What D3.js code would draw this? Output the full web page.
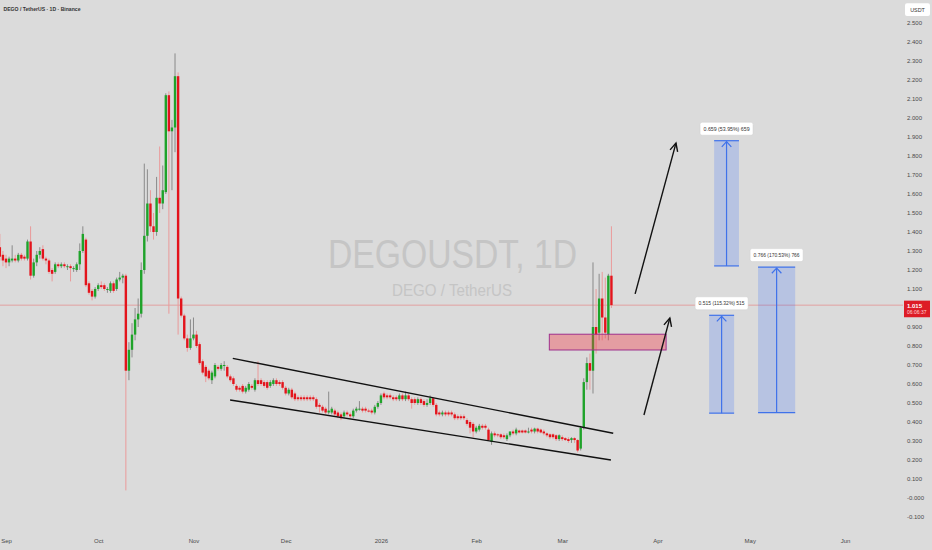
<!DOCTYPE html>
<html>
<head>
<meta charset="utf-8">
<script src="https://cdn.jsdelivr.net/npm/d3@7"></script>
<style>
  html, body { margin: 0; padding: 0; background: #dbdbdb; }
  svg { display: block; font-family: "Liberation Sans", Arial, sans-serif; }
</style>
</head>
<body>
<svg id="chart" width="932" height="550"></svg>
<script>
// ---- Daily candles, DEGO / USDT (Binance), first candle on 2025-08-30 ----
const firstCandle = "2025-08-30";
// [open, high, low, close]
const ohlc = [
  [1.32,1.39,1.25,1.27],[1.28,1.30,1.22,1.25],[1.26,1.28,1.21,1.24],[1.24,1.27,1.22,1.26],
  [1.25,1.33,1.24,1.26],[1.26,1.28,1.24,1.25],[1.25,1.29,1.24,1.28],[1.28,1.29,1.25,1.26],
  [1.27,1.28,1.25,1.26],[1.26,1.36,1.25,1.35],[1.35,1.43,1.15,1.17],[1.17,1.26,1.16,1.24],
  [1.24,1.30,1.22,1.28],[1.28,1.32,1.26,1.30],[1.31,1.33,1.25,1.26],[1.26,1.27,1.23,1.25],
  [1.25,1.26,1.18,1.19],[1.20,1.21,1.14,1.18],[1.19,1.24,1.18,1.23],[1.23,1.24,1.21,1.22],
  [1.22,1.24,1.21,1.23],[1.23,1.24,1.21,1.22],[1.22,1.23,1.20,1.22],[1.22,1.23,1.14,1.21],
  [1.21,1.22,1.19,1.21],[1.20,1.24,1.19,1.23],[1.23,1.34,1.20,1.30],[1.30,1.43,1.29,1.39],
  [1.36,1.37,1.11,1.12],[1.13,1.14,1.07,1.08],[1.09,1.10,1.04,1.06],[1.06,1.11,1.05,1.10],
  [1.10,1.13,1.09,1.12],[1.12,1.14,1.10,1.11],[1.12,1.13,1.09,1.10],[1.10,1.11,1.08,1.10],
  [1.09,1.14,1.08,1.13],[1.13,1.14,1.08,1.09],[1.10,1.16,1.09,1.15],[1.15,1.19,1.14,1.16],
  [1.16,1.18,1.13,1.17],[1.17,1.18,0.04,0.67],[0.67,0.82,0.62,0.78],[0.78,0.92,0.74,0.86],
  [0.86,1.00,0.83,0.94],[0.94,1.05,0.90,0.97],[0.97,1.24,0.95,1.20],[1.20,1.76,1.18,1.38],
  [1.38,1.73,1.35,1.55],[1.55,1.62,1.40,1.43],[1.43,1.50,1.36,1.40],[1.40,1.69,1.38,1.58],
  [1.58,1.85,1.50,1.55],[1.55,1.75,1.52,1.62],[1.61,2.13,1.60,2.12],[2.12,2.14,0.97,1.93],
  [1.93,1.99,1.62,1.95],[1.95,2.34,1.82,2.22],[2.22,2.24,0.86,1.05],[1.05,1.06,0.95,0.96],
  [0.96,0.97,0.83,0.84],[0.84,0.86,0.77,0.79],[0.79,0.94,0.78,0.84],[0.84,0.95,0.83,0.86],
  [0.86,0.88,0.79,0.80],[0.81,0.82,0.70,0.71],[0.72,0.73,0.65,0.66],[0.69,0.70,0.61,0.64],
  [0.67,0.68,0.62,0.63],[0.62,0.67,0.60,0.66],[0.64,0.71,0.63,0.70],[0.69,0.70,0.67,0.68],
  [0.68,0.71,0.67,0.70],[0.70,0.72,0.67,0.70],[0.69,0.70,0.63,0.64],[0.64,0.65,0.61,0.62],
  [0.63,0.64,0.59,0.60],[0.59,0.60,0.56,0.57],[0.58,0.59,0.56,0.57],[0.59,0.60,0.55,0.56],
  [0.56,0.59,0.55,0.58],[0.57,0.61,0.56,0.60],[0.59,0.60,0.57,0.58],[0.57,0.63,0.56,0.62],
  [0.62,0.72,0.59,0.60],[0.62,0.63,0.59,0.60],[0.61,0.62,0.58,0.59],[0.61,0.62,0.57,0.58],
  [0.59,0.62,0.58,0.61],[0.60,0.63,0.59,0.62],[0.62,0.63,0.59,0.60],[0.61,0.62,0.59,0.60],
  [0.61,0.62,0.57,0.58],[0.58,0.59,0.54,0.55],[0.55,0.58,0.54,0.57],[0.57,0.58,0.52,0.53],
  [0.55,0.56,0.51,0.52],[0.53,0.54,0.51,0.52],[0.53,0.54,0.51,0.52],[0.53,0.54,0.51,0.52],
  [0.53,0.54,0.51,0.52],[0.53,0.54,0.51,0.52],[0.53,0.54,0.51,0.52],[0.52,0.53,0.47,0.48],
  [0.49,0.50,0.45,0.48],[0.48,0.49,0.45,0.46],[0.47,0.48,0.44,0.45],[0.45,0.56,0.44,0.46],
  [0.45,0.48,0.44,0.47],[0.46,0.47,0.43,0.44],[0.45,0.46,0.42,0.43],[0.44,0.45,0.41,0.42],
  [0.43,0.46,0.42,0.45],[0.45,0.46,0.43,0.44],[0.44,0.45,0.42,0.43],[0.43,0.47,0.42,0.46],
  [0.46,0.48,0.45,0.47],[0.47,0.51,0.46,0.47],[0.47,0.48,0.45,0.46],[0.47,0.48,0.45,0.46],
  [0.46,0.47,0.45,0.455],[0.46,0.47,0.44,0.45],[0.45,0.49,0.44,0.48],[0.48,0.51,0.47,0.50],
  [0.50,0.55,0.49,0.54],[0.55,0.56,0.52,0.53],[0.54,0.55,0.52,0.53],[0.54,0.55,0.52,0.53],
  [0.53,0.54,0.51,0.52],[0.53,0.54,0.51,0.52],[0.52,0.55,0.51,0.54],[0.54,0.55,0.51,0.52],
  [0.52,0.56,0.51,0.54],[0.54,0.55,0.51,0.52],[0.52,0.53,0.47,0.50],[0.52,0.53,0.49,0.50],
  [0.50,0.53,0.49,0.52],[0.52,0.53,0.49,0.50],[0.51,0.52,0.48,0.49],[0.49,0.52,0.48,0.50],
  [0.50,0.54,0.49,0.525],[0.525,0.53,0.48,0.49],[0.49,0.50,0.43,0.44],[0.45,0.46,0.43,0.44],
  [0.44,0.46,0.43,0.45],[0.45,0.46,0.43,0.44],[0.45,0.46,0.43,0.44],[0.45,0.46,0.43,0.44],
  [0.44,0.45,0.41,0.42],[0.43,0.44,0.41,0.42],[0.43,0.44,0.41,0.42],[0.43,0.44,0.41,0.42],
  [0.41,0.42,0.38,0.39],[0.40,0.41,0.34,0.37],[0.39,0.40,0.32,0.35],[0.35,0.38,0.34,0.37],
  [0.36,0.39,0.35,0.38],[0.38,0.39,0.36,0.37],[0.38,0.39,0.36,0.37],[0.36,0.37,0.30,0.305],
  [0.295,0.35,0.28,0.34],[0.34,0.35,0.32,0.33],[0.335,0.34,0.32,0.33],[0.335,0.34,0.31,0.32],
  [0.33,0.34,0.31,0.32],[0.31,0.34,0.30,0.33],[0.33,0.35,0.32,0.35],[0.35,0.36,0.33,0.34],
  [0.34,0.37,0.33,0.36],[0.355,0.36,0.34,0.345],[0.355,0.36,0.34,0.345],[0.355,0.36,0.34,0.345],
  [0.35,0.37,0.34,0.35],[0.36,0.37,0.34,0.35],[0.35,0.37,0.34,0.365],[0.365,0.37,0.34,0.35],
  [0.36,0.365,0.34,0.345],[0.35,0.36,0.33,0.34],[0.34,0.345,0.32,0.33],[0.335,0.34,0.31,0.32],
  [0.335,0.34,0.31,0.32],[0.33,0.335,0.30,0.31],[0.31,0.335,0.30,0.33],[0.32,0.33,0.30,0.31],
  [0.315,0.32,0.30,0.305],[0.31,0.32,0.29,0.30],[0.305,0.32,0.29,0.315],[0.315,0.32,0.29,0.305],
  [0.305,0.31,0.24,0.25],[0.26,0.38,0.25,0.37],[0.37,0.63,0.36,0.61],[0.61,0.74,0.57,0.71],
  [0.71,0.76,0.57,0.67],[0.67,1.24,0.55,0.90],[0.90,1.10,0.76,0.86],[0.87,1.18,0.83,1.05],
  [1.05,1.19,0.83,0.95],[0.95,1.16,0.84,0.87],[0.86,1.18,0.83,1.17],[1.17,1.43,1.00,1.015]
];

// ---- Axis ticks ----
const priceTicks  = [2.5,2.4,2.3,2.2,2.1,2.0,1.9,1.8,1.7,1.6,1.5,1.4,1.3,1.2,1.1,0.9,0.8,0.7,0.6,0.5,0.4,0.3,0.2,0.1,0,-0.1];
const priceLabels = ["2.500","2.400","2.300","2.200","2.100","2.000","1.900","1.800","1.700","1.600","1.500","1.400","1.300","1.200","1.100","0.900","0.800","0.700","0.600","0.500","0.400","0.300","0.200","0.100","-0.000","-0.100"];
const monthTicks  = ["2025-09-01","2025-10-01","2025-11-01","2025-12-01","2026-01-01","2026-02-01","2026-03-01","2026-04-01","2026-05-01","2026-06-01"];
const monthLabels = ["Sep","Oct","Nov","Dec","2026","Feb","Mar","Apr","May","Jun"];

const lastPrice = 1.015;
const countdown = "06:06:37";

// ---- Drawings: falling channel, demand zone, arrows, projection boxes ----
const channelLines = [
  [["2025-11-13T19:00Z", 0.735], ["2026-03-17T14:00Z", 0.341]],
  [["2025-11-12T22:00Z", 0.516], ["2026-03-16T20:00Z", 0.200]]
];
const demandZone = { from: "2026-02-24T19:00Z", to: "2026-04-03T19:00Z", top: 0.862, bottom: 0.779 };
const arrows = [
  [["2026-03-24T17:00Z", 1.074], ["2026-04-07T00:00Z", 1.868]],
  [["2026-03-27T14:00Z", 0.437], ["2026-04-05T00:00Z", 0.947]]
];
const targets = [
  { from: "2026-04-19T10:00Z", to: "2026-04-27T12:00Z", base: 1.2215, target: 1.8805, label: "0.659 (53.95%) 659" },
  { from: "2026-04-17T19:00Z", to: "2026-04-25T22:00Z", base: 0.4466, target: 0.9616, label: "0.515 (115.32%) 515" },
  { from: "2026-05-03T17:00Z", to: "2026-05-15T19:00Z", base: 0.4492, target: 1.2152, label: "0.766 (170.53%) 766" }
];

// ---- Layout ----
const W = 932, H = 550, plotRight = 903;
const svg = d3.select("#chart");
const x = d3.scaleUtc()
  .domain([new Date("2025-09-01"), new Date("2026-06-01")])
  .range([6, 845]);
const y = d3.scaleLinear().domain([0, 2.5]).range([498, 23]);
const t = s => new Date(s);

svg.append("rect").attr("width", W).attr("height", H).attr("fill", "#dbdbdb");

// watermark
svg.append("text").attr("x", 452.5).attr("y", 267.5).attr("text-anchor", "middle")
  .attr("font-size", 41).attr("fill", "#c5c5c5")
  .attr("textLength", 249).attr("lengthAdjust", "spacingAndGlyphs")
  .text("DEGOUSDT, 1D");
svg.append("text").attr("x", 452).attr("y", 295.5).attr("text-anchor", "middle")
  .attr("font-size", 16).attr("fill", "#c5c5c5")
  .attr("textLength", 120).attr("lengthAdjust", "spacingAndGlyphs")
  .text("DEGO / TetherUS");

svg.append("defs").append("clipPath").attr("id", "plot")
  .append("rect").attr("x", 0).attr("y", 0).attr("width", plotRight).attr("height", H);
const plot = svg.append("g").attr("clip-path", "url(#plot)");

// last price line
plot.append("line").attr("x1", 0).attr("x2", plotRight + 2)
  .attr("y1", y(lastPrice)).attr("y2", y(lastPrice))
  .attr("stroke", "#e2a0a0").attr("stroke-width", 1);

// candles
const candles = ohlc.map((d, i) => ({
  date: d3.utcDay.offset(t(firstCandle), i), o: d[0], h: d[1], l: d[2], c: d[3]
}));
const up = d => d.c >= d.o;
const cg = plot.append("g");
cg.selectAll("line.wick").data(candles).join("line").attr("class", "wick")
  .attr("x1", d => x(d.date)).attr("x2", d => x(d.date))
  .attr("y1", d => y(d.h)).attr("y2", d => y(d.l))
  .attr("stroke", d => up(d) ? "#8a8a8a" : "#ea9a9a").attr("stroke-width", 1);
cg.selectAll("rect.body").data(candles).join("rect").attr("class", "body")
  .attr("x", d => x(d.date) - 1.2).attr("width", 2.4)
  .attr("y", d => y(Math.max(d.o, d.c)))
  .attr("height", d => Math.max(1, Math.abs(y(d.o) - y(d.c))))
  .attr("fill", d => up(d) ? "#1fa32a" : "#e3141c");

// channel lines
plot.selectAll("line.channel").data(channelLines).join("line").attr("class", "channel")
  .attr("x1", d => x(t(d[0][0]))).attr("y1", d => y(d[0][1]))
  .attr("x2", d => x(t(d[1][0]))).attr("y2", d => y(d[1][1]))
  .attr("stroke", "#111").attr("stroke-width", 1.4);

// demand zone
plot.append("rect")
  .attr("x", x(t(demandZone.from))).attr("width", x(t(demandZone.to)) - x(t(demandZone.from)))
  .attr("y", y(demandZone.top)).attr("height", y(demandZone.bottom) - y(demandZone.top))
  .attr("fill", "rgba(242,54,69,0.38)").attr("stroke", "#a0308c").attr("stroke-width", 1);

// arrows
function arrowHead(g, x1, y1, x2, y2, len, spread, color, width) {
  const a = Math.atan2(y2 - y1, x2 - x1);
  const p = ang => [x2 - len * Math.cos(a - ang), y2 - len * Math.sin(a - ang)];
  const l = p(spread), r = p(-spread);
  g.append("path").attr("d", `M${l[0]},${l[1]}L${x2},${y2}L${r[0]},${r[1]}`)
    .attr("fill", "none").attr("stroke", color).attr("stroke-width", width)
    .attr("stroke-linejoin", "miter");
}
arrows.forEach(a => {
  const x1 = x(t(a[0][0])), y1 = y(a[0][1]), x2 = x(t(a[1][0])), y2 = y(a[1][1]);
  plot.append("line").attr("x1", x1).attr("y1", y1).attr("x2", x2).attr("y2", y2)
    .attr("stroke", "#111").attr("stroke-width", 1.4);
  arrowHead(plot, x1, y1, x2, y2, 9, 0.45, "#111", 1.4);
});

// projection boxes
const blue = "#3f72ea";
targets.forEach(b => {
  const x0 = x(t(b.from)), x1 = x(t(b.to)), yt = y(b.target), yb = y(b.base);
  const cx = (x0 + x1) / 2;
  plot.append("rect").attr("x", x0).attr("width", x1 - x0).attr("y", yt).attr("height", yb - yt)
    .attr("fill", "rgba(41,98,255,0.2)");
  [yt, yb].forEach(yy => plot.append("line").attr("x1", x0).attr("x2", x1)
    .attr("y1", yy).attr("y2", yy).attr("stroke", blue).attr("stroke-width", 1.2));
  plot.append("line").attr("x1", cx).attr("x2", cx).attr("y1", yb).attr("y2", yt + 1)
    .attr("stroke", blue).attr("stroke-width", 1.2);
  arrowHead(plot, cx, yb, cx, yt + 1, 7, 0.75, blue, 1.2);
  // value label
  const lw = 53, lh = 13;
  const lg = plot.append("g");
  lg.append("rect").attr("x", cx - lw / 2).attr("y", yt - 5.5 - lh).attr("width", lw).attr("height", lh)
    .attr("rx", 2).attr("fill", "#fff").attr("stroke", "#cfcfcf").attr("stroke-width", 0.5);
  lg.append("text").attr("x", cx).attr("y", yt - 5.5 - lh / 2).attr("dy", "0.35em")
    .attr("text-anchor", "middle").attr("font-size", 5.8).attr("fill", "#333")
    .attr("textLength", lw - 7).attr("lengthAdjust", "spacingAndGlyphs")
    .text(b.label);
});

// right price axis
const yAxis = d3.axisRight(y).tickValues(priceTicks).tickSize(0).tickPadding(0)
  .tickFormat((d, i) => priceLabels[i]);
const ya = svg.append("g").attr("transform", "translate(907,0)").call(yAxis);
ya.select(".domain").remove();
ya.selectAll("text").attr("font-size", 6).attr("fill", "#4a4a4a")
  .attr("font-family", "Liberation Sans, Arial, sans-serif");

// bottom time axis
const xAxis = d3.axisBottom(x).tickValues(monthTicks.map(t)).tickSize(0).tickPadding(0)
  .tickFormat((d, i) => monthLabels[i]);
const xa = svg.append("g").attr("transform", "translate(0,539)").call(xAxis);
xa.select(".domain").remove();
xa.selectAll("text").attr("font-size", 6).attr("fill", "#4a4a4a")
  .attr("font-family", "Liberation Sans, Arial, sans-serif");

// last price tag
const py = y(lastPrice);
svg.append("rect").attr("x", 904).attr("y", py - 4.5).attr("width", 26).attr("height", 16.6)
  .attr("fill", "#dd1c26");
svg.append("text").attr("x", 907).attr("y", py + 0.3).attr("dy", "0.35em")
  .attr("font-size", 6).attr("font-weight", "bold").attr("fill", "#fff").text(d3.format(".3f")(lastPrice));
svg.append("text").attr("x", 907).attr("y", py + 7.2).attr("dy", "0.35em")
  .attr("font-size", 5).attr("fill", "#ffd6d6").text(countdown);

// currency badge
svg.append("rect").attr("x", 905).attr("y", 3.3).attr("width", 25).attr("height", 12.7)
  .attr("rx", 2).attr("fill", "#fff");
svg.append("text").attr("x", 917.5).attr("y", 9.7).attr("dy", "0.35em").attr("text-anchor", "middle")
  .attr("font-size", 5.4).attr("fill", "#333").text("USDT");

// title
svg.append("text").attr("x", 3.5).attr("y", 8.8).attr("dy", "0.35em")
  .attr("font-size", 6).attr("font-weight", "bold").attr("fill", "#333")
  .attr("textLength", 77).attr("lengthAdjust", "spacingAndGlyphs")
  .text("DEGO / TetherUS · 1D · Binance");
</script>
</body>
</html>
